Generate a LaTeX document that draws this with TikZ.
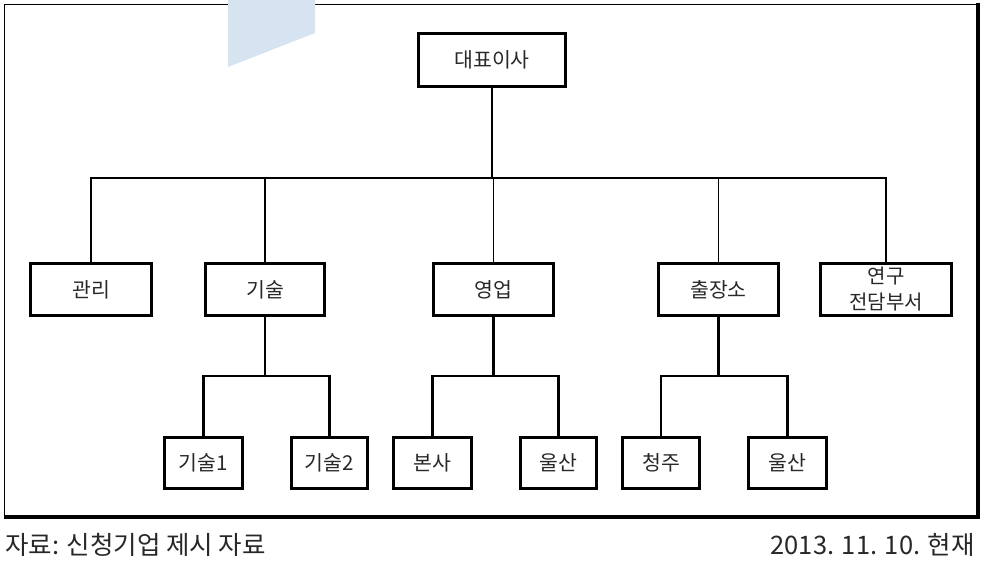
\documentclass[tikz,border=0pt]{standalone}
\usepackage{fontspec}
\setmainfont{Noto Sans CJK KR}
\definecolor{wmblue}{RGB}{214,228,241}
\definecolor{txt}{RGB}{40,40,40}
\tikzset{
  orgbox/.style={draw=black, line width=2.7pt, fill=white, inner sep=0pt, text=txt,
    font=\fontsize{20.5}{27}\selectfont, align=center},
  lvla/.style={orgbox, minimum height=52pt},
  lvlb/.style={orgbox, minimum height=51pt},
  thinline/.style={line width=1.4pt},
  thickline/.style={line width=2.7pt},
  foot/.style={inner sep=0pt, text=txt, font=\fontsize{25.5}{28}\selectfont}
}
\begin{document}
\begin{tikzpicture}[x=1pt,y=-1pt]
\useasboundingbox (0,0) rectangle (984,563);
% frame
\draw[line width=1pt] (4,517) -- (4,4) -- (978,4);
\draw[line width=3.6pt] (978,3) -- (978,517) -- (4,517);
% watermark shape
\fill[wmblue] (228,0) -- (315,0) -- (315,33) -- (228,67) -- cycle;
% coordinates for bars
\coordinate (bara) at (0,178);
\coordinate (barb) at (0,376);
% nodes
\node[orgbox, minimum width=147pt, minimum height=53pt] (ceo) at (492,60) {대표이사};
\node[lvla, minimum width=121pt] (gwanri) at (91,289.5) {관리};
\node[lvla, minimum width=119pt] (gisul) at (265,289.5) {기술};
\node[lvla, minimum width=120pt] (yeongeop) at (493.5,289.5) {영업};
\node[lvla, minimum width=120pt] (chuljang) at (718.5,289.5) {출장소};
\node[lvla, minimum width=131pt, font=\fontsize{20}{26}\selectfont] (yeongu) at (886,289.5) {연구\\전담부서};
\node[lvlb, minimum width=78pt] (gisula) at (203.5,463) {기술1};
\node[lvlb, minimum width=76pt] (gisulb) at (329.5,463) {기술2};
\node[lvlb, minimum width=78pt] (bonsa) at (432.5,463) {본사};
\node[lvlb, minimum width=76pt] (ulsana) at (558.5,463) {울산};
\node[lvlb, minimum width=77pt] (cheongju) at (661,463) {청주};
\node[lvlb, minimum width=78pt] (ulsanb) at (787.5,463) {울산};
% level 1 connectors
\draw[thickline] (ceo.south) -- (ceo.south |- bara);
\draw[thinline] (gwanri.north) -- (gwanri.north |- bara) -- (yeongu.north |- bara) -- (yeongu.north);
\draw[thinline] (gisul.north) -- (gisul.north |- bara);
\draw[thinline] (yeongeop.north) -- (yeongeop.north |- bara);
\draw[thinline] (chuljang.north) -- (chuljang.north |- bara);
% level 2 connectors
\draw[thickline] (gisul.south) -- (gisul.south |- barb);
\draw[thickline] (gisula.north) -- (gisula.north |- barb) -- (gisulb.north |- barb) -- (gisulb.north);
\draw[thickline] (yeongeop.south) -- (yeongeop.south |- barb);
\draw[thickline] (bonsa.north) -- (bonsa.north |- barb) -- (ulsana.north |- barb) -- (ulsana.north);
\draw[thickline] (chuljang.south) -- (chuljang.south |- barb);
\draw[thickline] (cheongju.north) -- (cheongju.north |- barb) -- (ulsanb.north |- barb) -- (ulsanb.north);
% footer
\node[foot, anchor=west] (src) at (5,545) {자료: 신청기업 제시 자료};
\node[foot, anchor=east] (date) at (975,545) {2013. 11. 10. 현재};
\end{tikzpicture}
\end{document}
